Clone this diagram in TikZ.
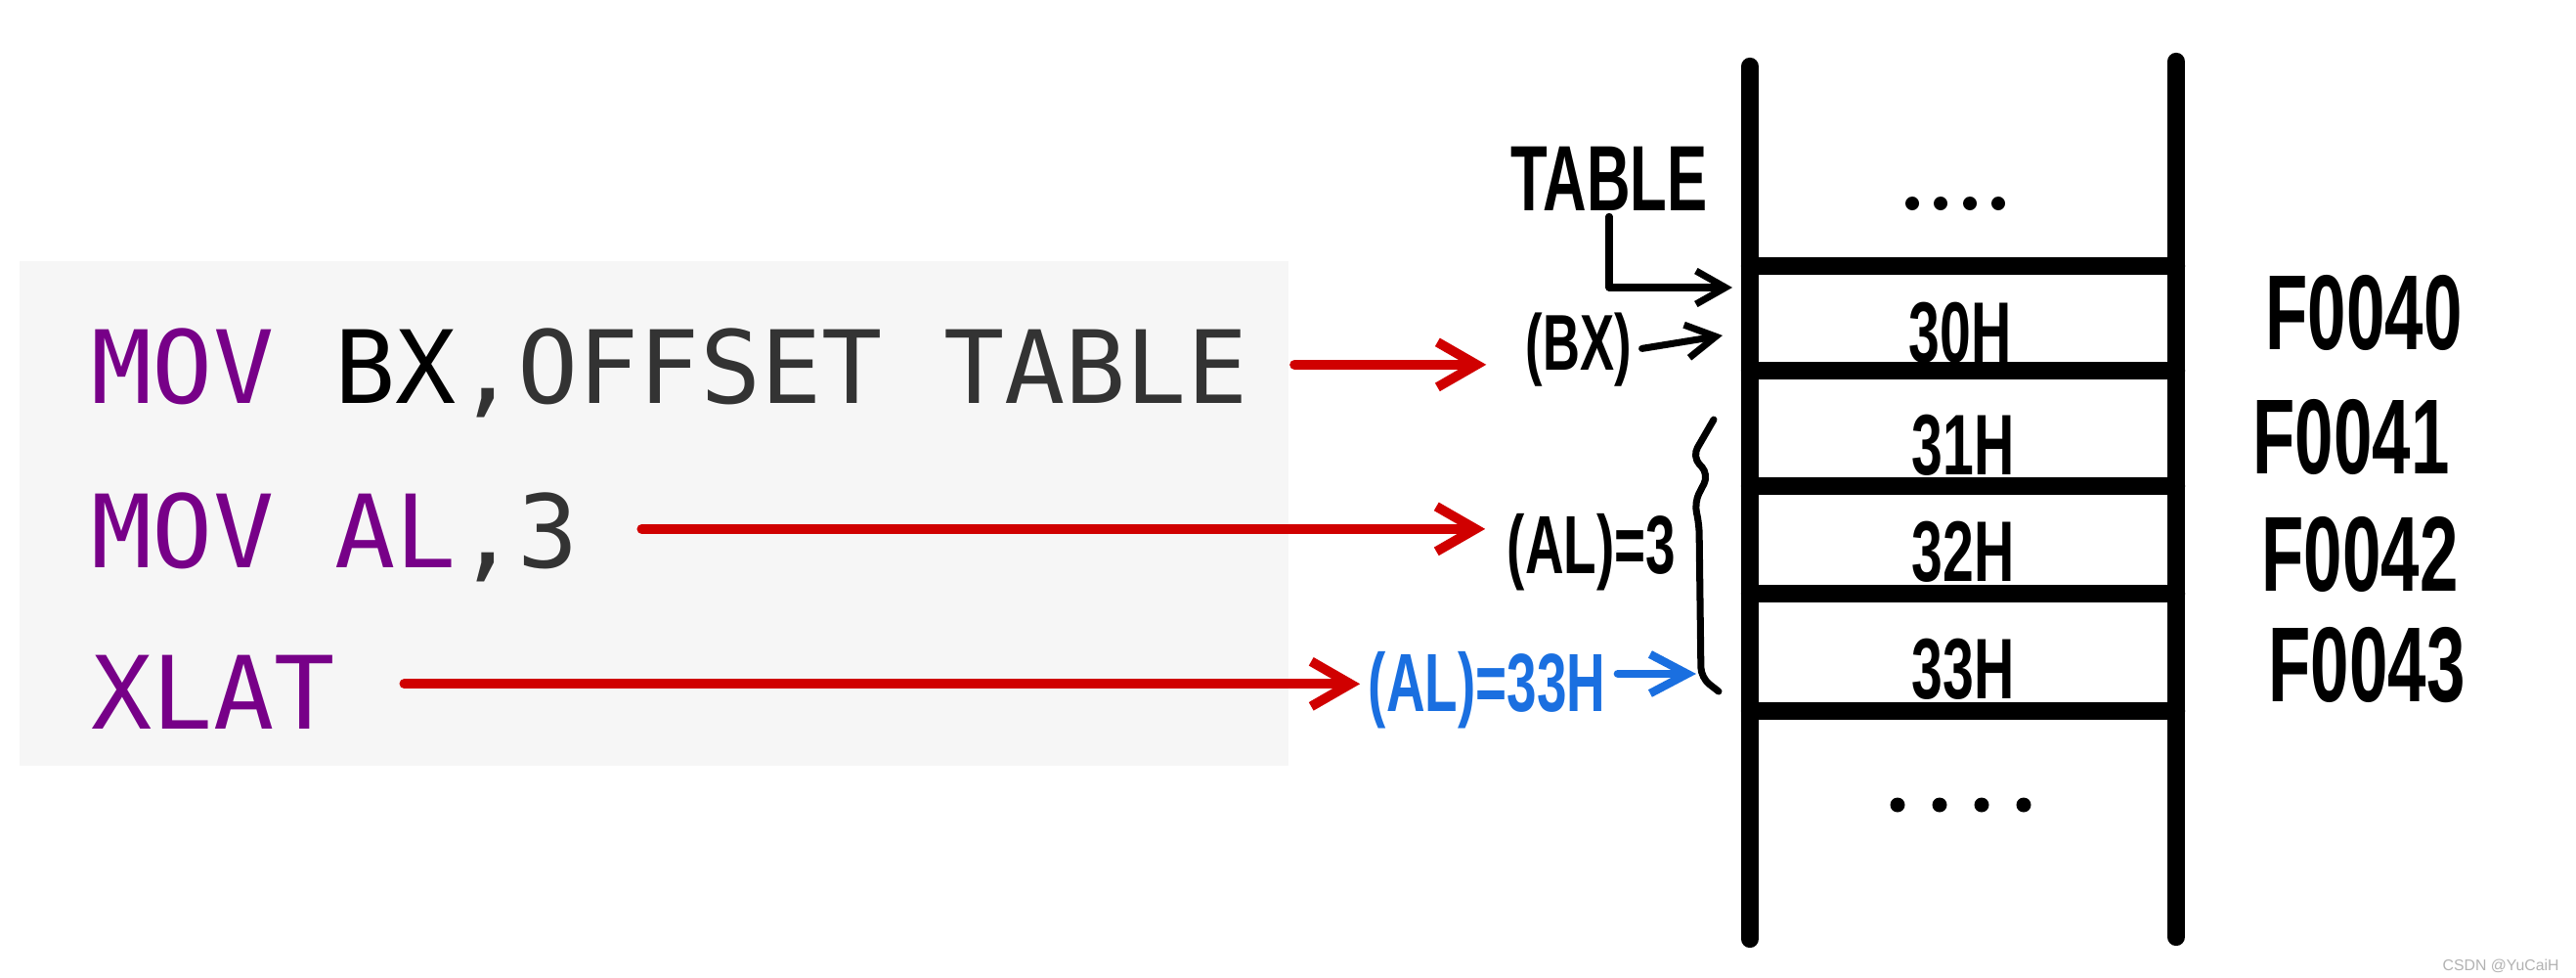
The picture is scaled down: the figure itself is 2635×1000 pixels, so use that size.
\documentclass[tikz,border=0pt]{standalone}
\usepackage{fontspec}
\setmainfont{Liberation Sans}
\newfontfamily\codefont{DejaVu Sans Mono}
\newfontfamily\handfont[FakeStretch=0.65]{Liberation Sans}
\usetikzlibrary{arrows.meta, positioning}
\definecolor{cpurple}{HTML}{770088}
\definecolor{cdark}{HTML}{333333}
\definecolor{cred}{HTML}{D00000}
\definecolor{cblue}{HTML}{1A6FE0}
\definecolor{cpanel}{HTML}{F6F6F6}
\tikzset{
  every picture/.style={line cap=round, line join=round},
  code/.style={font=\codefont\fontsize{29.4}{30}\selectfont, text=cdark, inner sep=0pt, anchor=base west},
  hand/.style={font=\handfont\bfseries\fontsize{#1}{#1}\selectfont, inner sep=0pt},
  hand/.default=24,
  redarrow/.style={-{Straight Barb[length=4mm, width=4.6mm]}, draw=cred, line width=2.8pt},
  inkarrow/.style={-{Straight Barb[length=3mm, width=3.4mm]}, line width=2pt},
  bluearrow/.style={-{Straight Barb[length=3.8mm, width=4mm]}, draw=cblue, line width=2.4pt},
  rail/.style={line width=5.2pt},
}

\begin{document}
\begin{tikzpicture}[x=0.01cm, y=-0.01cm]
  \fill[white] (0,0) rectangle (2635,1000);
  \useasboundingbox (0,0) rectangle (2635,1000);
  % code panel
  \fill[cpanel] (20,267) rectangle (1318,783);
  \node[code] (mov1) at (93,412) {\textcolor{cpurple}{MOV} \textcolor{black}{BX},OFFSET TABLE};
  \node[code] (mov2) at (93,580) {\textcolor{cpurple}{MOV AL},3};
  \node[code] (xlat) at (93,745) {\textcolor{cpurple}{XLAT}};

  % memory ladder
  \draw[rail] (1790,68) -- (1790,960);
  \draw[rail] (2226,63) -- (2226,958);
  \foreach \y in {272,379,497,607,727}
    \draw[rail] (1790,\y) -- (2226,\y);
  \foreach \x in {1956,1985,2015,2044}
    \fill (\x,208) circle (0.07cm);
  \foreach \x in {1941,1984,2027,2070}
    \fill (\x,823) circle (0.075cm);
  \node[hand=25] (v30) at (2005,340) {30H};
  \node[hand=25] (v31) at (2008,455) {31H};
  \node[hand=25] (v32) at (2008,564) {32H};
  \node[hand=25] (v33) at (2008,684) {33H};
  \node[hand=31] (a40) at (2418,320) {F0040};
  \node[hand=31] (a41) at (2405,447) {F0041};
  \node[hand=31] (a42) at (2414,567) {F0042};
  \node[hand=31] (a43) at (2421,680) {F0043};

  % pointers
  \node[hand=27] (tab) at (1646,183) {TABLE};
  \node[hand=23] (bx) at (1615,358) {(BX)};
  \node[hand=24] (al) at (1628,565) {(AL)=3};
  \node[hand=24, text=cblue] (al33) at (1521,706) {(AL)=33H};
  \coordinate (tabtip) at (1772,294);
  \coordinate (bxtip) at (1762,343);
  \coordinate (altip) at (1735,689);
  \draw[inkarrow, shorten <=0.05cm] (tab.south) |- (tabtip);
  \draw[inkarrow, shorten <=0.1cm] (bx.east) -- (bxtip);
  \draw[bluearrow, shorten <=0.12cm] (al33.east |- altip) -- (altip);
  \draw[line width=2pt, rounded corners=3pt] (1753,429) -- (1731,467) -- (1748,485) -- (1733,514) -- (1738,535) -- (1740,693) -- (1758,707);

  \draw[redarrow, shorten <=0.47cm, shorten >=0.4cm] ([yshift=0.08cm]mov1.east) -- ([yshift=0.08cm]mov1.east -| bx.west);
  \draw[redarrow, shorten <=0.64cm, shorten >=0.22cm] ([yshift=0.08cm]mov2.east) -- ([yshift=0.08cm]mov2.east -| al.west);
  \draw[redarrow, shorten <=0.7cm, shorten >=0.08cm] ([yshift=0.08cm]xlat.east) -- ([yshift=0.08cm]xlat.east -| al33.west);

  \node[font=\fontsize{4.5}{5}\selectfont, text=gray!60, anchor=east] (mark) at (2630,988) {CSDN @YuCaiH};
\end{tikzpicture}
\end{document}
